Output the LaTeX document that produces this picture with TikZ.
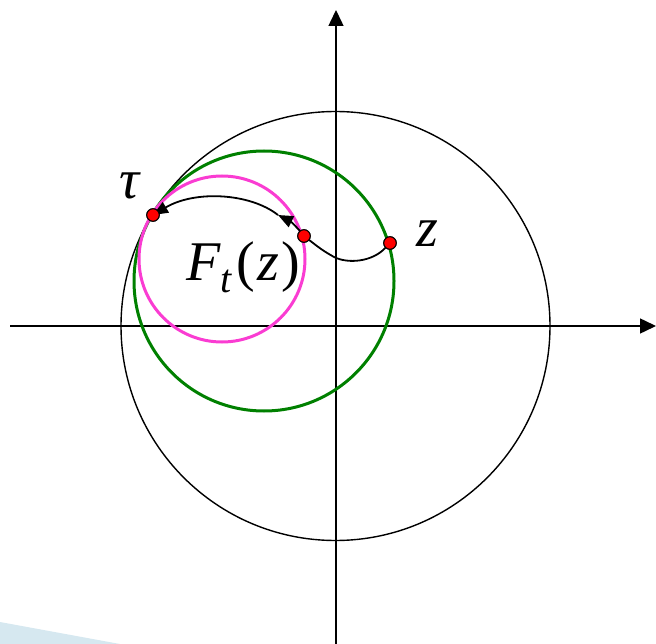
\documentclass[tikz,border=0pt]{standalone}
\usepackage{fontspec}
\setmainfont{Liberation Serif}
\usetikzlibrary{arrows.meta}
\definecolor{pinkc}{RGB}{250,60,210}
\definecolor{greenc}{RGB}{0,128,0}
\definecolor{bluec}{RGB}{214,232,240}
\begin{document}
\begin{tikzpicture}[x=1pt,y=-1pt,
  axis/.style={line width=1.5pt,-{Triangle[length=16pt,width=15pt]}},
  dot/.style={circle,fill=red,draw=black,line width=1pt,inner sep=0pt,minimum size=12.5pt},
  path/.style={line width=1.8pt},
  tip/.style={-{Triangle[length=15pt,width=12pt]}},
  lbl/.style={font=\fontsize{56}{60}\selectfont\itshape,inner sep=0pt}]
\useasboundingbox (0,0) rectangle (656,644);
\fill[bluec] (0,622) -- (120,644) -- (0,644) -- cycle;
\coordinate (xs) at (10,326); \coordinate (xe) at (656,326);
\coordinate (ys) at (336,644); \coordinate (ye) at (336,10);
\draw[axis] (xs) -- (xe);
\draw[axis] (ys) -- (ye);
\draw[line width=1.4pt] (335.5,326) circle (214.5);
\draw[line width=3pt,greenc] (264,281) circle (130);
\draw[line width=3pt,pinkc] (222,259) circle (83);
\node[dot] (z) at (390,243) {};
\node[dot] (m) at (304,236) {};
\node[dot] (t) at (153,215) {};
\coordinate (a) at (278,215);
\draw[path] (z) .. controls (372,262) and (348,264) .. (334,257) .. controls (322,250) .. (m.center);
\draw[path,tip] (m.center) .. controls (298,228) and (290,221) .. (a);
\draw[path,tip] (a) .. controls (250,193) and (195,190) .. (t.center);
\node[dot] at (z) {};
\node[dot] at (m) {};
\node[dot] at (t) {};
\node[lbl] (tl) at (130,186) {τ};
\node[lbl] (zl) at (427,234) {z};
\node[lbl,anchor=base] (fl) at (243,281) {F\raisebox{-12pt}{\fontsize{40}{44}\selectfont t}\kern5pt\upshape(\kern2pt\itshape z\kern2pt\upshape)};
\end{tikzpicture}
\end{document}
